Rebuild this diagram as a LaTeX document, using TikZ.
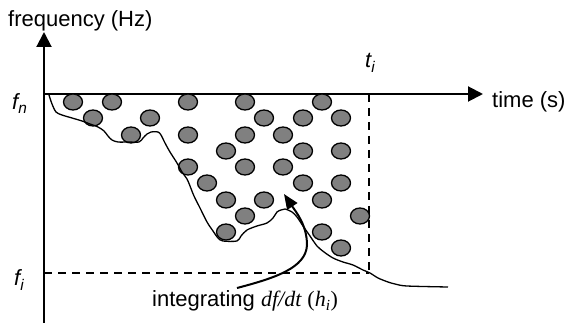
\documentclass[tikz,border=0pt]{standalone}
\usepackage{fontspec}
\setmainfont{Liberation Sans}
\newfontfamily\serifit{Liberation Serif}
\usetikzlibrary{arrows.meta}
\begin{document}
\begin{tikzpicture}[x=1pt,y=-1pt,
  axis/.style={line width=2pt,-{Triangle[length=15pt,width=15pt]}},
  dline/.style={line width=1.3pt,dash pattern=on 8pt off 6pt},
  dot/.style={fill={rgb,255:red,128;green,128;blue,128},draw=black,line width=1.3pt},
  lbl/.style={inner sep=0pt,anchor=base west,font=\fontsize{22}{26}\selectfont},
  pointer/.style={line width=2pt,-{Triangle[length=15pt,width=12pt]}}]
\useasboundingbox (0,0) rectangle (566,323);
% axes
\coordinate (ybot) at (44,324);
\coordinate (ytop) at (44,32);
\coordinate (xl) at (43,94);
\coordinate (xr) at (483,94);
\draw[axis] (ybot) -- (ytop);
\draw[axis] (xl) -- (xr);
% dashed lines
\coordinate (tiTop) at (369,94);
\coordinate (corner) at (369,273);
\coordinate (fiLeft) at (44,273);
\draw[dline] (tiTop) -- (corner);
\draw[dline] (fiLeft) -- (corner);
% circles
\foreach \x/\y in {73/102,112/102,188/102,245/102,322/102,
  93/118,150/118,264/118,303/118,341/118,
  131/135,188/135,245/135,283/135,
  226/151,303/151,341/151,
  188/167,245/167,283/167,
  207/183,303/183,341/183,
  226/200,264/200,322/200,
  245/216,360/216,
  226/232,322/232,
  341/248}
  \filldraw[dot] (\x,\y) ellipse [x radius=9.5, y radius=8];
% boundary curve
\draw[line width=1.3pt] plot[smooth,tension=0.5] coordinates {
(49,95) (52,104) (56,112) (62,115) (72,118) (82,121) (90,124) (98,127)
(104,131) (108,136) (112,140) (118,142) (128,142) (139,142) (143,138)
(147,134) (151,132) (158,132) (161,135) (165,143) (170,152) (177,163)
(182,172) (187,179) (190,186) (194,196) (200,208) (207,222) (213,231)
(218,238) (223,241) (237,241) (241,236) (247,230) (257,226) (267,223)
(273,218) (277,212) (281,210) (285,209) (292,212) (297,217) (303,226)
(310,236) (317,246) (324,252) (333,258) (343,262) (353,265) (363,270)
(370,273) (378,278) (388,282) (395,284) (407,286) (448,287)};
% labels
\node[lbl] (freq) at (8,27) {frequency (Hz)};
\node[lbl] (time) at (492,108) {time (s)};
\node[lbl] (fn) at (12,110) {\itshape f\textsubscript{n}};
\node[lbl] (fi) at (14,286) {\itshape f\textsubscript{i}};
\node[lbl] (ti) at (365,68) {\itshape t\textsubscript{i}};
\node[lbl] (integ) at (152,307) {integrating {\serifit\itshape df/dt} {\serifit(\textit{h}\textsubscript{\itshape i})}};
% pointer arrow
\coordinate (arrS) at (237,288);
\coordinate (arrT) at (284,194);
\draw[pointer] (arrS) .. controls (275,278) and (306,268) .. (307,245)
  .. controls (307,225) and (296,212) .. (arrT);
\end{tikzpicture}
\end{document}
